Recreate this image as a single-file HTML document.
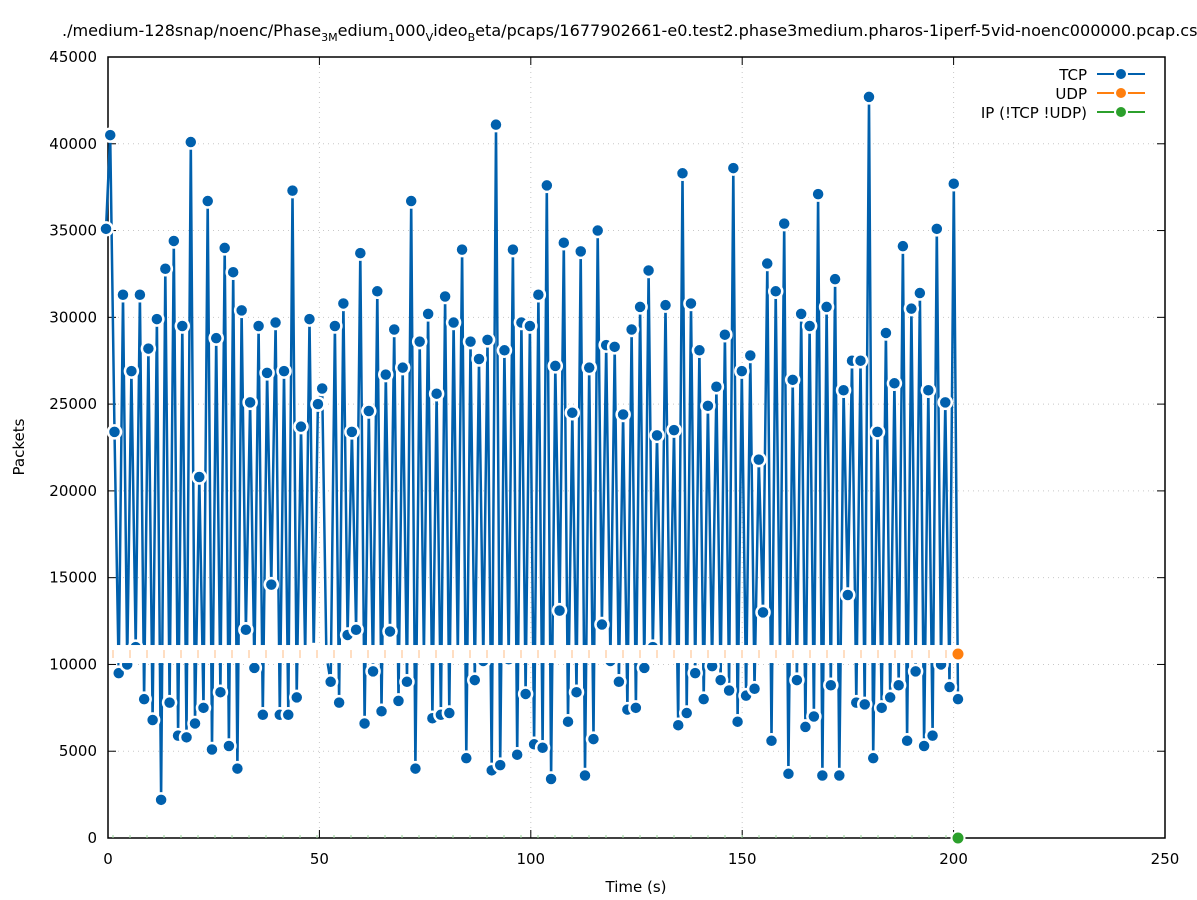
<!DOCTYPE html>
<html><head><meta charset="utf-8"><style>
body{margin:0;background:#fff}
svg{display:block;font-family:"DejaVu Sans","Liberation Sans",sans-serif}
</style></head><body>
<svg id="s" width="1197" height="900" viewBox="0 0 1197 900" xmlns="http://www.w3.org/2000/svg">
<rect width="1197" height="900" fill="#fff"/>
<g id="grid" stroke="#c8c8c8" stroke-dasharray="1,4" stroke-width="1"></g>
<g id="axes"></g>
<g id="plot"></g>
<text x="62" y="36" font-size="16" fill="#000" textLength="1145" lengthAdjust="spacingAndGlyphs">./medium-128snap/noenc/Phase<tspan font-size="11" dy="5">3M</tspan><tspan dy="-5">edium</tspan><tspan font-size="11" dy="5">1</tspan><tspan dy="-5">000</tspan><tspan font-size="11" dy="5">V</tspan><tspan dy="-5">ideo</tspan><tspan font-size="11" dy="5">B</tspan><tspan dy="-5">eta/pcaps/1677902661-e0.test2.phase3medium.pharos-1iperf-5vid-noenc000000.pcap.csv</tspan></text>
<text x="636" y="892" font-size="15" text-anchor="middle">Time (s)</text>
<text transform="translate(24,447) rotate(-90)" font-size="15" text-anchor="middle">Packets</text>
<g font-size="15" text-anchor="end">
<text x="1087" y="80">TCP</text>
<text x="1087" y="99">UDP</text>
<text x="1087" y="118">IP (!TCP  !UDP)</text>
</g>
<g stroke-width="2">
<line x1="1097" y1="74" x2="1145" y2="74" stroke="#0060ad"/><circle cx="1121" cy="74" r="6" fill="#0060ad" stroke="#fff" stroke-width="2"/>
<line x1="1097" y1="93" x2="1145" y2="93" stroke="#ff7f0e"/><circle cx="1121" cy="93" r="6" fill="#ff7f0e" stroke="#fff" stroke-width="2"/>
<line x1="1097" y1="112" x2="1145" y2="112" stroke="#2ca02c"/><circle cx="1121" cy="112" r="6" fill="#2ca02c" stroke="#fff" stroke-width="2"/>
</g>
</svg>
<script>
var NS="http://www.w3.org/2000/svg";
function el(p,t,a,txt){var e=document.createElementNS(NS,t);for(var k in a)e.setAttribute(k,a[k]);if(txt!=null)e.textContent=txt;p.appendChild(e);return e;}
var X0=108,X1=1165,Y0=838,Y1=57;
function yv(v){return Y0-(v/45000)*(Y0-Y1);}
var g=document.getElementById('grid'),ax=document.getElementById('axes'),pl=document.getElementById('plot');
for(var i=1;i<9;i++){var y=yv(i*5000);el(g,'line',{x1:X0,y1:y,x2:X1,y2:y});}
for(var i=1;i<5;i++){var x=X0+i*50*(X1-X0)/250;el(g,'line',{x1:x,y1:Y1,x2:x,y2:Y0});}
el(ax,'rect',{x:X0,y:Y1,width:X1-X0,height:Y0-Y1,fill:'none',stroke:'#000','stroke-width':1.5});
for(var i=0;i<=9;i++){var y=yv(i*5000);el(ax,'line',{x1:X0,y1:y,x2:X0+8,y2:y,stroke:'#000'});el(ax,'line',{x1:X1,y1:y,x2:X1-8,y2:y,stroke:'#000'});
el(ax,'text',{x:97,y:y+5,'font-size':15,'text-anchor':'end'},String(i*5000));}
for(var i=0;i<=5;i++){var x=X0+i*50*(X1-X0)/250;el(ax,'line',{x1:x,y1:Y0,x2:x,y2:Y0-8,stroke:'#000'});el(ax,'line',{x1:x,y1:Y1,x2:x,y2:Y1+8,stroke:'#000'});
el(ax,'text',{x:x,y:864,'font-size':15,'text-anchor':'middle'},String(i*50));}
var v=[35.1,40.5,23.4,9.5,31.3,10.0,26.9,11.0,31.3,8.0,28.2,6.8,29.9,2.2,32.8,7.8,34.4,5.9,29.5,5.8,40.1,6.6,20.8,7.5,36.7,5.1,28.8,8.4,34.0,5.3,32.6,4.0,30.4,12.0,25.1,9.8,29.5,7.1,26.8,14.6,29.7,7.1,26.9,7.1,37.3,8.1,23.7,10.5,29.9,10.8,25.0,25.9,10.5,9.0,29.5,7.8,30.8,11.7,23.4,12.0,33.7,6.6,24.6,9.6,31.5,7.3,26.7,11.9,29.3,7.9,27.1,9.0,36.7,4.0,28.6,10.5,30.2,6.9,25.6,7.1,31.2,7.2,29.7,10.5,33.9,4.6,28.6,9.1,27.6,10.2,28.7,3.9,41.1,4.2,28.1,10.3,33.9,4.8,29.7,8.3,29.5,5.4,31.3,5.2,37.6,3.4,27.2,13.1,34.3,6.7,24.5,8.4,33.8,3.6,27.1,5.7,35.0,12.3,28.4,10.2,28.3,9.0,24.4,7.4,29.3,7.5,30.6,9.8,32.7,11.0,23.2,10.5,30.7,10.5,23.5,6.5,38.3,7.2,30.8,9.5,28.1,8.0,24.9,9.9,26.0,9.1,29.0,8.5,38.6,6.7,26.9,8.2,27.8,8.6,21.8,13.0,33.1,5.6,31.5,10.5,35.4,3.7,26.4,9.1,30.2,6.4,29.5,7.0,37.1,3.6,30.6,8.8,32.2,3.6,25.8,14.0,27.5,7.8,27.5,7.7,42.7,4.6,23.4,7.5,29.1,8.1,26.2,8.8,34.1,5.6,30.5,9.6,31.4,5.3,25.8,5.9,35.1,10.0,25.1,8.7,37.7,8.0];
var n=v.length,dx=(958-106)/(n-1),pts=[];
for(var i=0;i<n;i++)pts.push([106+i*dx,yv(v[i]*1000)]);
el(pl,'polyline',{points:pts.map(function(p){return p[0].toFixed(1)+','+p[1].toFixed(1)}).join(' '),fill:'none',stroke:'#0060ad','stroke-width':2.5,'stroke-linejoin':'round'});
for(var i=0;i<n;i++)el(pl,'circle',{cx:pts[i][0],cy:pts[i][1],r:6.5,fill:'#0060ad',stroke:'#fff','stroke-width':2.5});
var uy=yv(10600);
el(pl,'rect',{x:X0+1,y:uy-9,width:958-X0,height:18,fill:'#fff'});
for(var x=113;x<950;x+=17){el(pl,'line',{x1:x,y1:uy-4,x2:x,y2:uy+4,stroke:'#ffc89a','stroke-width':1.2});}
el(pl,'circle',{cx:958,cy:uy,r:6.5,fill:'#ff7f0e',stroke:'#fff','stroke-width':2});
for(var x=113;x<950;x+=17){el(pl,'line',{x1:x,y1:Y0-3,x2:x,y2:Y0,stroke:'#9ad49a','stroke-width':1});}
el(pl,'circle',{cx:958,cy:Y0,r:6.5,fill:'#2ca02c',stroke:'#fff','stroke-width':2});
</script>
</body></html>
